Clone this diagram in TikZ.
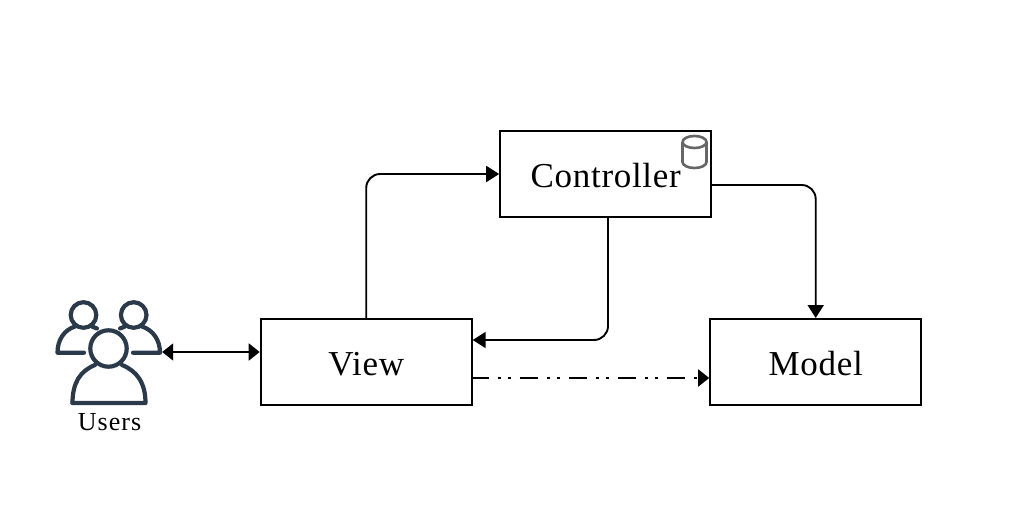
\documentclass[tikz,border=0pt]{standalone}
\usepackage{fontspec}
\setmainfont{Liberation Serif}
\usetikzlibrary{arrows.meta,calc}
\definecolor{iconc}{HTML}{2B3A4A}
\definecolor{cylc}{HTML}{666666}
\tikzset{
  boxn/.style={draw=black,line width=2pt,fill=white,minimum width=211pt,minimum height=86pt,inner sep=0pt,text height=30pt,text depth=4pt,font=\fontsize{35}{38}\selectfont},
  conn/.style={draw=black,line width=1.9pt,rounded corners=14pt,-{Triangle[length=13pt,width=16pt]}},
  connb/.style={draw=black,line width=1.9pt,{Triangle[length=11pt,width=17pt]}-{Triangle[length=11pt,width=17pt]}},
  dashc/.style={draw=black,line width=1.9pt,dash pattern=on 18pt off 9pt on 3pt off 7pt on 3pt off 9pt,dash phase=2pt,-{Triangle[length=11pt,width=17pt]}},
  icon/.style={draw=iconc,line width=4.2pt,line cap=round,line join=round},
  lab/.style={inner sep=0pt,font=\fontsize{26}{28}\selectfont}
}
\begin{document}
\begin{tikzpicture}[x=1pt,y=-1pt]
\useasboundingbox (0,0) rectangle (1017,508);
\fill[white] (0,0) rectangle (1017,508);
\node[boxn] (controller) at (605.7,174) {\addfontfeatures{LetterSpace=2}Controller};
\node[boxn] (view) at (366.2,362) {\addfontfeatures{LetterSpace=2}View};
\node[boxn] (model) at (815.7,362) {\addfontfeatures{LetterSpace=2}Model};
\node[minimum width=106pt,minimum height=60pt,inner sep=0pt] (users) at (109,352) {};
\node[lab] (userslabel) at (109.5,422) {\addfontfeatures{LetterSpace=4}Users};
% icon
\draw[icon] (83.5,315) circle (12.8);
\draw[icon] (133.7,315) circle (12.8);
\draw[icon] (108.5,348.5) circle (18.2);
\draw[icon] (84,352.7) -- (57.5,352.7) .. controls (57.5,340) and (64,330) .. (75,326.5);
\draw[icon] (92,326.5) -- (97,328.5);
\draw[icon] (133,352.7) -- (160,352.7) .. controls (160,340) and (153,330) .. (142,326.5);
\draw[icon] (125,326.5) -- (120,328.5);
\draw[icon] (72.5,403) .. controls (72.5,383) and (80,371) .. (95,365);
\draw[icon] (122,365) .. controls (137,371) and (145.5,383) .. (145.5,403) -- (72.5,403);
% cylinder
\draw[draw=cylc,line width=2.6pt] (682.5,142) arc[start angle=180,end angle=-180,x radius=12,y radius=6];
\draw[draw=cylc,line width=2.6pt] (682.5,142) -- (682.5,162) arc[start angle=180,end angle=0,x radius=12,y radius=6] -- (706.5,142);
% connectors
\draw[connb] (users.east) -- (users.east -| view.west);
\draw[conn] (view.north) -- (view.north |- controller.west) -- (controller.west);
\coordinate (cr) at ($(controller.east)+(0,11)$);
\draw[conn] (cr) -- (cr -| model.north) -- (model.north);
\coordinate (vr) at ($(view.east)+(0,-22)$);
\draw[conn] (controller.south -| 608,0) -- (vr -| 608,0) -- (vr);
\coordinate (vd) at ($(view.east)+(0,16)$);
\draw[dashc] (vd) -- (vd -| model.west);
\end{tikzpicture}
\end{document}
